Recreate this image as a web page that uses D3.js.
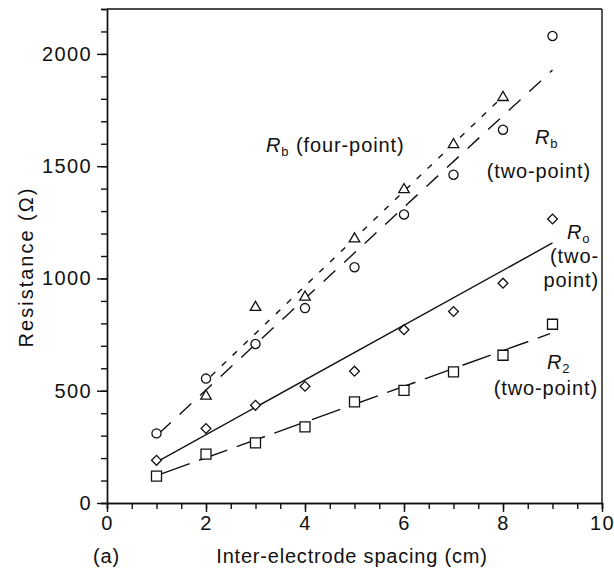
<!DOCTYPE html>
<html lang="en">
<head>
<meta charset="utf-8">
<title>Resistance vs spacing</title>
<script src="https://cdn.jsdelivr.net/npm/d3@7/dist/d3.min.js"></script>
<style>
  body { margin: 0; background: #fff; }
  svg text { font-family: "Liberation Sans", Arial, sans-serif; fill: #111; }
  .axis path, .axis line { stroke: #111; stroke-width: 1.4px; }
</style>
</head>
<body>
<script>
// spacing (cm)
var spacing = [1, 2, 3, 4, 5, 6, 7, 8, 9];
// Rb four-point (triangles), only x = 2..8
var rb4Spacing = [2, 3, 4, 5, 6, 7, 8];
var rb4Values = [476, 871, 917, 1176, 1396, 1596, 1806];
// Rb two-point (circles)
var rb2Values = [310, 554, 708, 868, 1050, 1285, 1462, 1662, 2080];
// Ro two-point (diamonds)
var roValues = [190, 332, 435, 520, 587, 772, 853, 979, 1265];
// R2 two-point (squares)
var r2Values = [120, 218, 268, 339, 450, 502, 584, 658, 796];

// fitted lines, end points
var fitRb4 = [[2.1, 565], [8.0, 1811]];
var fitRb2 = [[1.05, 310], [9.0, 1928]];
var fitRo = [[1.0, 182], [9.0, 1158]];
var fitR2 = [[1.1, 130], [8.95, 754]];

var xTicks = [0, 2, 4, 6, 8, 10];
var yTicks = [0, 500, 1000, 1500, 2000];

var w = 614, h = 575;
var svg = d3.select("body").append("svg")
            .attr("width", w)
            .attr("height", h);

var xScale = d3.scaleLinear().domain([0, 10]).range([107, 602]);
var yScale = d3.scaleLinear().domain([0, 2200]).range([503, 9]);

// frame (top and right)
svg.append("line")
   .attr("x1", xScale(0)).attr("x2", xScale(10))
   .attr("y1", yScale(2200)).attr("y2", yScale(2200))
   .attr("stroke", "#111").attr("stroke-width", 1.4);
svg.append("line")
   .attr("x1", xScale(10)).attr("x2", xScale(10))
   .attr("y1", yScale(2200)).attr("y2", yScale(0))
   .attr("stroke", "#111").attr("stroke-width", 1.4);

// minor ticks
svg.append("g")
   .attr("class", "axis")
   .attr("transform", "translate(0," + yScale(0) + ")")
   .call(d3.axisBottom(xScale).tickValues(d3.range(0, 10.01, 0.5)).tickSize(6).tickFormat(""));
svg.append("g")
   .attr("class", "axis")
   .attr("transform", "translate(" + xScale(0) + ",0)")
   .call(d3.axisLeft(yScale).tickValues(d3.range(0, 2201, 100)).tickSize(6).tickFormat(""));

// major ticks with labels
svg.append("g")
   .attr("class", "axis")
   .attr("transform", "translate(0," + yScale(0) + ")")
   .call(d3.axisBottom(xScale).tickValues(xTicks).tickSize(9).tickPadding(4)
           .tickSizeOuter(0).tickFormat(d3.format("d")));
svg.append("g")
   .attr("class", "axis")
   .attr("transform", "translate(" + xScale(0) + ",0)")
   .call(d3.axisLeft(yScale).tickValues(yTicks).tickSize(10).tickPadding(5)
           .tickSizeOuter(0).tickFormat(d3.format("d")));

svg.selectAll(".axis text")
   .attr("font-size", "20px")
   .attr("letter-spacing", "1.4px")
   .attr("font-family", null);

// fit lines
var line = d3.line()
             .x(function(d) { return xScale(d[0]); })
             .y(function(d) { return yScale(d[1]); });

var fits = [
  { pts: fitRb4, dash: "6,9" },
  { pts: fitRb2, dash: "16,12" },
  { pts: fitRo, dash: null },
  { pts: fitR2, dash: "30,10" }
];
svg.selectAll("path.fit")
   .data(fits)
   .enter()
   .append("path")
   .attr("class", "fit")
   .attr("d", function(d) { return line(d.pts); })
   .attr("fill", "none")
   .attr("stroke", "#111")
   .attr("stroke-width", 1.4)
   .attr("stroke-dasharray", function(d) { return d.dash; });

// markers
function drawMarkers(xs, ys, type, size, rot) {
  var pts = xs.map(function(x, i) { return [x, ys[i]]; });
  svg.append("g").selectAll("path")
     .data(pts)
     .enter()
     .append("path")
     .attr("d", d3.symbol().type(type).size(size))
     .attr("transform", function(d) {
       return "translate(" + xScale(d[0]) + "," + yScale(d[1]) + ") rotate(" + rot + ")";
     })
     .attr("fill", "#fff")
     .attr("stroke", "#111")
     .attr("stroke-width", 1.3);
}
drawMarkers(rb4Spacing, rb4Values, d3.symbolTriangle, 48, 0);
drawMarkers(spacing, rb2Values, d3.symbolCircle, 66, 0);
drawMarkers(spacing, roValues, d3.symbolSquare, 48, 45);
drawMarkers(spacing, r2Values, d3.symbolSquare, 100, 0);

// series labels
function label(x, y, anchor, parts) {
  var t = svg.append("text")
             .attr("x", x).attr("y", y)
             .attr("text-anchor", anchor)
             .attr("font-size", "20px")
             .attr("letter-spacing", "0.9px");
  parts.forEach(function(p) {
    var s = t.append("tspan").text(p.t);
    if (p.i) s.attr("font-style", "italic");
    if (p.sub) s.attr("font-size", "13px").attr("dy", 4);
    if (p.up) s.attr("dy", -4);
  });
}
label(266, 152, "start", [{ t: "R", i: true }, { t: "b", sub: true }, { t: " (four-point)", up: true }]);
label(535, 144, "start", [{ t: "R", i: true }, { t: "b", sub: true }]);
label(591, 178, "end", [{ t: "(two-point)" }]);
label(567, 239, "start", [{ t: "R", i: true }, { t: "o", sub: true }]);
label(599, 263, "end", [{ t: "(two-" }]);
label(599, 287, "end", [{ t: "point)" }]);
label(547, 369, "start", [{ t: "R", i: true }, { t: "2", sub: true }]);
label(598, 395, "end", [{ t: "(two-point)" }]);

// axis titles
svg.append("text")
   .attr("x", 93).attr("y", 563)
   .attr("font-size", "20px")
   .attr("letter-spacing", "0.8px")
   .text("(a)");
svg.append("text")
   .attr("x", 352).attr("y", 563)
   .attr("text-anchor", "middle")
   .attr("font-size", "20px")
   .attr("letter-spacing", "0.8px")
   .text("Inter-electrode spacing (cm)");
svg.append("text")
   .attr("transform", "translate(33,267) rotate(-90)")
   .attr("text-anchor", "middle")
   .attr("font-size", "20px")
   .attr("letter-spacing", "2px")
   .text("Resistance (\u03A9)");
</script>
</body>
</html>
